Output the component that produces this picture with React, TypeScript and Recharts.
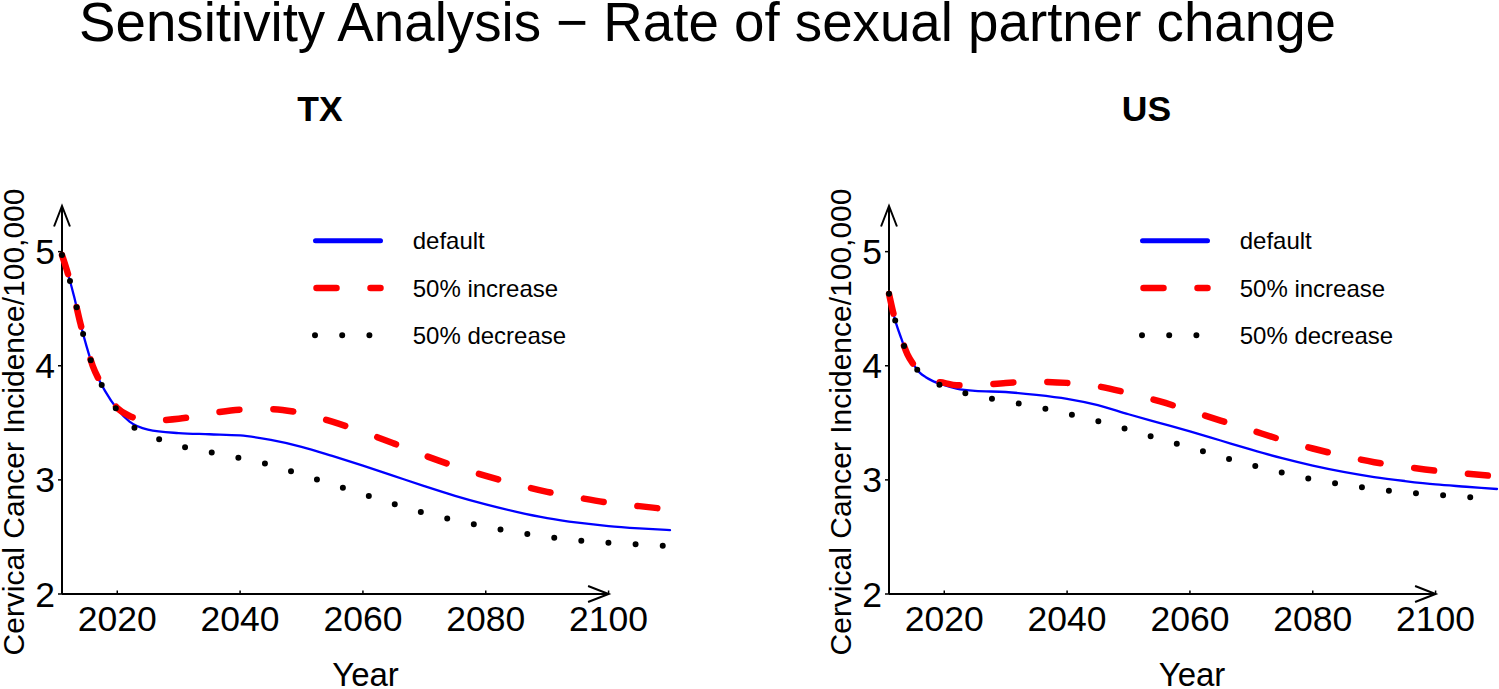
import { LineChart, Line, XAxis, YAxis, ReferenceLine, Legend } from 'recharts';

// values (incidence per 100,000)
const years = [
  2011, 2012, 2013, 2014, 2015, 2016, 2017, 2018, 2020, 2022, 2025, 2030, 2035, 2040,
  2045, 2050, 2055, 2060, 2065, 2070, 2075, 2080, 2085, 2090, 2095, 2100, 2105, 2110,
];

const txDefault = [
  4.97, 4.8, 4.6, 4.37, 4.17, 4.0, 3.88, 3.78, 3.62, 3.51, 3.44, 3.41, 3.4, 3.39,
  3.35, 3.29, 3.21, 3.125, 3.035, 2.945, 2.86, 2.785, 2.72, 2.665, 2.625, 2.595, 2.575, 2.56,
];
const txIncrease = [
  4.97, 4.8, 4.6, 4.37, 4.17, 4.0, 3.88, 3.78, 3.63, 3.56, 3.52, 3.535, 3.58, 3.615,
  3.62, 3.585, 3.51, 3.42, 3.32, 3.215, 3.12, 3.035, 2.96, 2.895, 2.845, 2.8, 2.77, 2.74,
];
const txDecrease = [
  4.97, 4.8, 4.6, 4.37, 4.17, 4.0, 3.88, 3.78, 3.61, 3.49, 3.4, 3.3, 3.245, 3.19,
  3.13, 3.045, 2.96, 2.875, 2.79, 2.71, 2.645, 2.59, 2.54, 2.5, 2.47, 2.45, 2.435, 2.42,
];

const usDefault = [
  4.63, 4.4, 4.24, 4.1, 4.01, 3.94, 3.9, 3.87, 3.83, 3.8, 3.78, 3.77, 3.745, 3.71,
  3.655, 3.575, 3.5, 3.425, 3.345, 3.265, 3.19, 3.125, 3.07, 3.025, 2.99, 2.96, 2.94, 2.92,
];
const usIncrease = [
  4.63, 4.4, 4.24, 4.1, 4.01, 3.94, 3.9, 3.87, 3.85, 3.83, 3.83, 3.85, 3.86, 3.85,
  3.82, 3.76, 3.69, 3.605, 3.52, 3.435, 3.35, 3.275, 3.21, 3.155, 3.115, 3.08, 3.055, 3.03,
];
const usDecrease = [
  4.63, 4.4, 4.24, 4.1, 4.01, 3.94, 3.9, 3.86, 3.82, 3.78, 3.74, 3.69, 3.64, 3.58,
  3.515, 3.44, 3.36, 3.285, 3.205, 3.13, 3.065, 3.005, 2.96, 2.92, 2.89, 2.87, 2.85, 2.84,
];

const xTicks = [2020, 2040, 2060, 2080, 2100];
const yTicks = [2, 3, 4, 5];

const FONT = '"Liberation Sans", Arial, Helvetica, sans-serif';
const W = 675;
const H = 689;
const SHIFT = 826.5;

const series = [
  { key: 'base', name: 'default', color: '#0000ff', width: 2.3, legendWidth: 5, legendStart: 15.5, dash: undefined },
  { key: 'up', name: '50% increase', color: '#ff0000', width: 6.5, legendWidth: 6.5, legendStart: 16.5, dash: '20 34' },
  { key: 'down', name: '50% decrease', color: '#000000', width: 6, legendWidth: 6, legendStart: 15, dash: '0 27.2' },
];

function buildRows(base: number[], up: number[], down: number[]) {
  return years.map((year, i) => ({ year, base: base[i], up: up[i], down: down[i] }));
}

function ArrowAxis(props: any) {
  const { x1, y1, x2, y2 } = props;
  const ang = Math.atan2(y2 - y1, x2 - x1);
  const len = 22;
  const spread = 0.37;
  const ax = x2 - len * Math.cos(ang - spread);
  const ay = y2 - len * Math.sin(ang - spread);
  const bx = x2 - len * Math.cos(ang + spread);
  const by = y2 - len * Math.sin(ang + spread);
  return (
    <g>
      <line x1={x1} y1={y1} x2={x2} y2={y2} stroke="#000" strokeWidth={2} />
      <polyline
        points={`${ax},${ay} ${x2},${y2} ${bx},${by}`}
        fill="none"
        stroke="#000"
        strokeWidth={2}
      />
    </g>
  );
}

function XTick(props: any) {
  const { x, y, payload } = props;
  return (
    <g>
      <line x1={x} y1={y} x2={x} y2={y - 3.5} stroke="#000" strokeWidth={1.5} />
      <text x={x} y={y + 37} textAnchor="middle" fontSize={35.5} fontFamily={FONT} fill="#000">
        {payload.value}
      </text>
    </g>
  );
}

function YTick(props: any) {
  const { x, y, payload } = props;
  return (
    <g>
      <line x1={x - 4} y1={y} x2={x} y2={y} stroke="#000" strokeWidth={1.5} />
      <text x={x - 7} y={y + 12.5} textAnchor="end" fontSize={35.5} fontFamily={FONT} fill="#000">
        {payload.value}
      </text>
    </g>
  );
}

function LegendBox({ payload }: any) {
  // keep the plotting order of the series, whatever order recharts hands the payload in
  const items = series.map((s) => {
    const entry = (payload || []).find((p: any) => p.dataKey === s.key || p.value === s.name);
    return { ...s, color: entry?.color ?? s.color, label: entry?.value ?? s.name };
  });
  return (
    <svg width={330} height={140} style={{ overflow: 'visible' }}>
      {items.map((s, i) => {
        const cy = 25.7 + i * 47.3;
        return (
          <g key={s.key}>
            <line
              x1={s.legendStart}
              y1={cy}
              x2={80.5}
              y2={cy}
              stroke={s.color}
              strokeWidth={s.legendWidth}
              strokeDasharray={s.dash}
              strokeLinecap="round"
            />
            <text x={112.7} y={cy + 8.6} fontSize={24} fontFamily={FONT} fill="#000">
              {s.label}
            </text>
          </g>
        );
      })}
    </svg>
  );
}

function Panel({ data, left }: { data: any[]; left: number }) {
  return (
    <div style={{ position: 'absolute', left, top: 0 }}>
      <LineChart width={W} height={H} data={data} margin={{ top: 206, right: 5, bottom: 0, left: 0 }}>
        <XAxis
          dataKey="year"
          type="number"
          domain={[2011, 2110]}
          ticks={xTicks}
          interval={0}
          height={95}
          axisLine={false}
          tickLine={false}
          tickSize={0}
          tickMargin={0}
          tick={<XTick />}
        />
        <YAxis
          type="number"
          domain={[2, 5.4]}
          ticks={yTicks}
          interval={0}
          width={62}
          axisLine={false}
          tickLine={false}
          tickSize={0}
          tickMargin={0}
          tick={<YTick />}
        />
        <ReferenceLine
          segment={[{ x: 2011, y: 2 }, { x: 2100, y: 2 }]}
          shape={ArrowAxis}
        />
        <ReferenceLine
          segment={[{ x: 2011, y: 2 }, { x: 2011, y: 5.4 }]}
          shape={ArrowAxis}
        />
        {series.map((s) => (
          <Line
            key={s.key}
            dataKey={s.key}
            name={s.name}
            type="monotone"
            stroke={s.color}
            strokeWidth={s.width}
            strokeDasharray={s.dash}
            strokeLinecap="round"
            strokeLinejoin="round"
            dot={false}
            activeDot={false}
            isAnimationActive={false}
          />
        ))}
        <Legend
          layout="vertical"
          verticalAlign="middle"
          align="center"
          wrapperStyle={{ left: 300, top: 215, width: 330, height: 140 }}
          content={(props: any) => <LegendBox payload={props.payload} />}
        />
      </LineChart>
    </div>
  );
}

export default function App() {
  const tx = buildRows(txDefault, txIncrease, txDecrease);
  const us = buildRows(usDefault, usIncrease, usDecrease);
  const panels = [
    { name: 'TX', data: tx, dx: 0 },
    { name: 'US', data: us, dx: SHIFT },
  ];

  return (
    <div
      style={{
        position: 'absolute',
        left: 0,
        top: 0,
        width: 1499,
        height: 689,
        overflow: 'hidden',
        background: '#fff',
        fontFamily: FONT,
      }}
    >
      {panels.map((p) => (
        <Panel key={p.name} data={p.data} left={p.dx} />
      ))}
      <svg
        width={1499}
        height={689}
        style={{ position: 'absolute', left: 0, top: 0, pointerEvents: 'none' }}
      >
        <text x={707.5} y={41} textAnchor="middle" fontSize={54.7} fontFamily={FONT} fill="#000">
          Sensitivity Analysis − Rate of sexual partner change
        </text>
        {panels.map((p) => (
          <g key={p.name}>
            <text
              x={320 + p.dx}
              y={120.7}
              textAnchor="middle"
              fontSize={35.5}
              fontWeight="bold"
              fontFamily={FONT}
              fill="#000"
            >
              {p.name}
            </text>
            <text x={365.5 + p.dx} y={686} textAnchor="middle" fontSize={33} fontFamily={FONT} fill="#000">
              Year
            </text>
            <text
              x={24 + p.dx}
              y={422}
              transform={`rotate(-90 ${24 + p.dx} 422)`}
              textAnchor="middle"
              fontSize={30}
              fontFamily={FONT}
              fill="#000"
            >
              Cervical Cancer Incidence/100,000
            </text>
          </g>
        ))}
      </svg>
    </div>
  );
}
